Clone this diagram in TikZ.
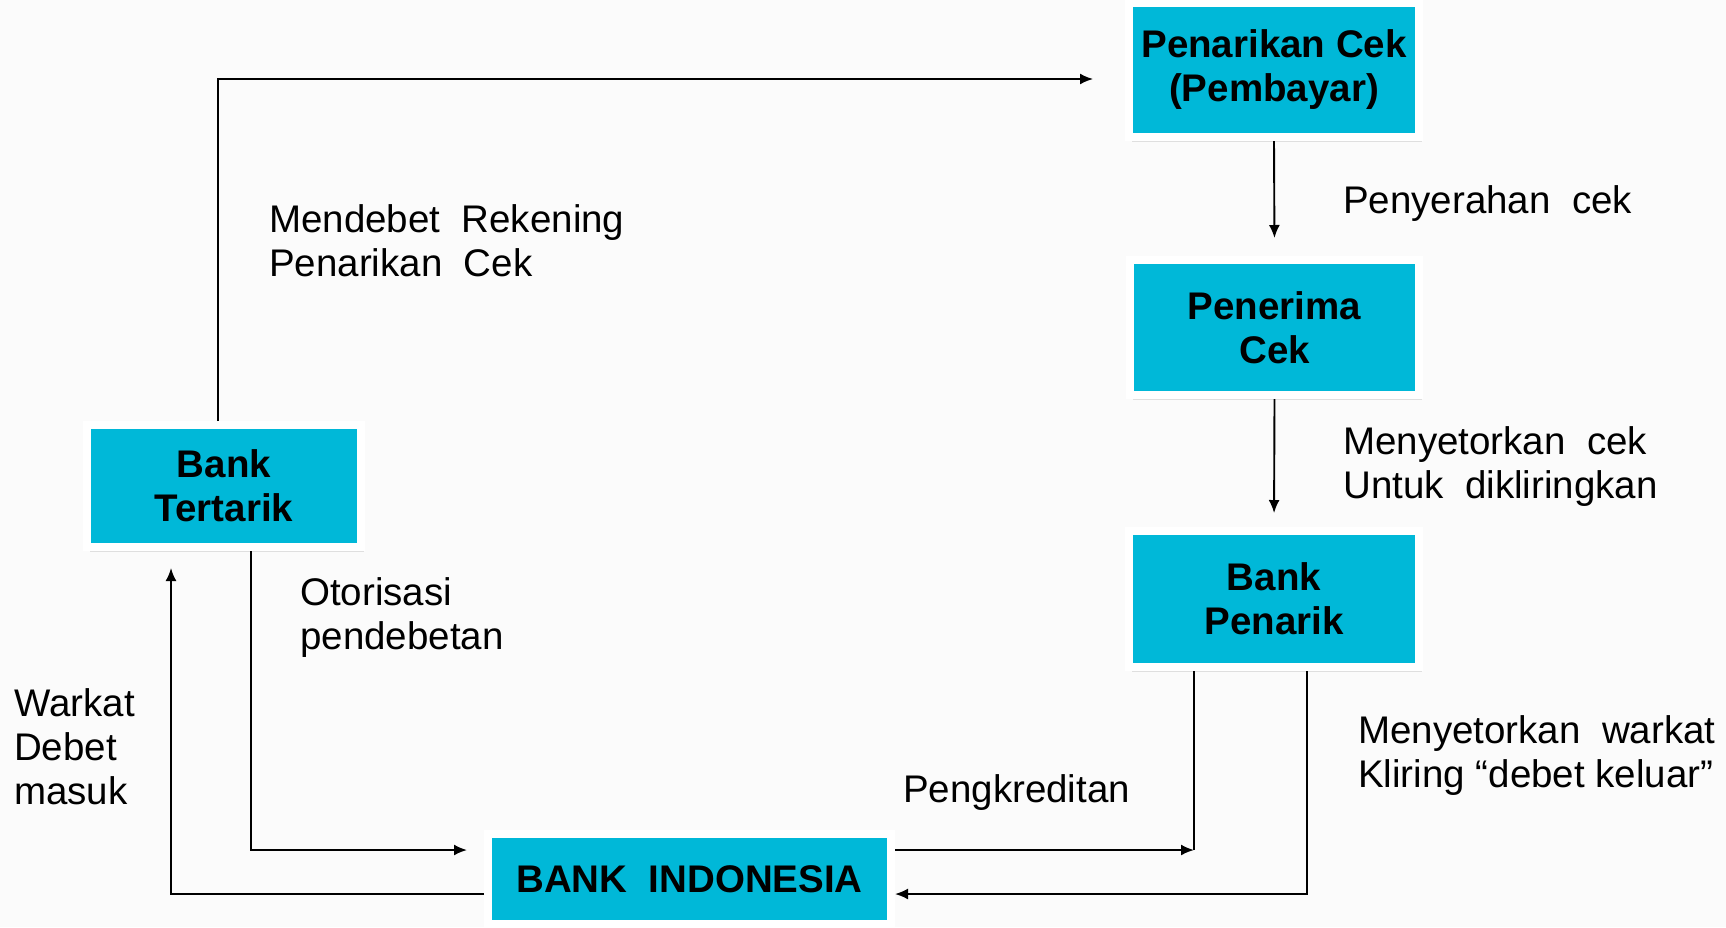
\documentclass[tikz,border=0pt]{standalone}
\usepackage{fontspec}
\setmainfont{Liberation Sans}
\usetikzlibrary{arrows.meta,shadows}
\definecolor{boxcyan}{RGB}{0,184,216}
\definecolor{bgcol}{RGB}{251,251,251}
\tikzset{
  box/.style={rectangle, fill=boxcyan, draw=white, line width=8pt, inner sep=0pt,
    align=center, font=\bfseries\fontsize{38.5}{44}\selectfont,
    drop shadow={opacity=0.22, shadow xshift=3pt, shadow yshift=-5pt, fill=gray}},
  lab/.style={anchor=west, inner sep=0pt, align=left, font=\fontsize{38.5}{44}\selectfont},
  conn/.style={line width=1.9pt, draw=black},
  arr/.style={conn, -{Latex[length=13pt,width=11pt]}}
}
\begin{document}
\begin{tikzpicture}[x=1pt,y=-1pt]
\fill[bgcol] (0,0) rectangle (1726,927);
\useasboundingbox (0,0) rectangle (1726,927);

\node[box, minimum width=290pt, minimum height=134pt] (penarikan) at (1274,70) {Penarikan Cek\\(Pembayar)};
\node[box, minimum width=289pt, minimum height=135pt] (penerima) at (1274.5,327.5) {Penerima\\Cek};
\node[box, minimum width=290pt, minimum height=136pt] (penarik) at (1274,599) {Bank\\Penarik};
\node[box, minimum width=274pt, minimum height=122pt] (tertarik) at (224,486) {Bank\\Tertarik};
\node[box, minimum width=403pt, minimum height=90pt] (bi) at (689.5,879) {BANK\ \ INDONESIA};

\coordinate (c1) at (218,79);
\coordinate (c2) at (251,850);
\coordinate (c3) at (1194,850);
\coordinate (c4) at (1307,894);
\coordinate (c5) at (171,894);

\draw[arr, shorten >=32pt] (tertarik.north -| c1) -- (c1) -- (c1 -| penarikan.west);
\draw[arr, shorten >=18pt] (penarikan.south) -- (penerima.north);
\draw[arr, shorten >=14pt] (penerima.south) -- (penarik.north);
\draw[arr, shorten >=17pt] (tertarik.south -| c2) -- (c2) -- (c2 -| bi.west);
\draw[conn] (penarik.south -| c3) -- (c3);
\draw[arr] (bi.east |- c3) -- (c3);
\draw[arr] (penarik.south -| c4) -- (c4) -- (c4 -| bi.east);
\draw[arr, shorten >=17pt] (bi.west |- c5) -- (c5) -- (c5 |- tertarik.south);

\node[lab] (l1) at (269,241) {Mendebet\ \ Rekening\\Penarikan\ \ Cek};
\node[lab] (l2) at (1343,204) {Penyerahan\ \ cek};
\node[lab] (l3) at (1343,467) {Menyetorkan\ \ cek\\Untuk\ \ dikliringkan};
\node[lab] (l4) at (300,618) {Otorisasi\\pendebetan};
\node[lab] (l5) at (14,747) {Warkat\\Debet\\masuk};
\node[lab] (l6) at (903,793) {Pengkreditan};
\node[lab] (l7) at (1358,756) {Menyetorkan\ \ warkat\\Kliring “debet keluar”};
\end{tikzpicture}
\end{document}
